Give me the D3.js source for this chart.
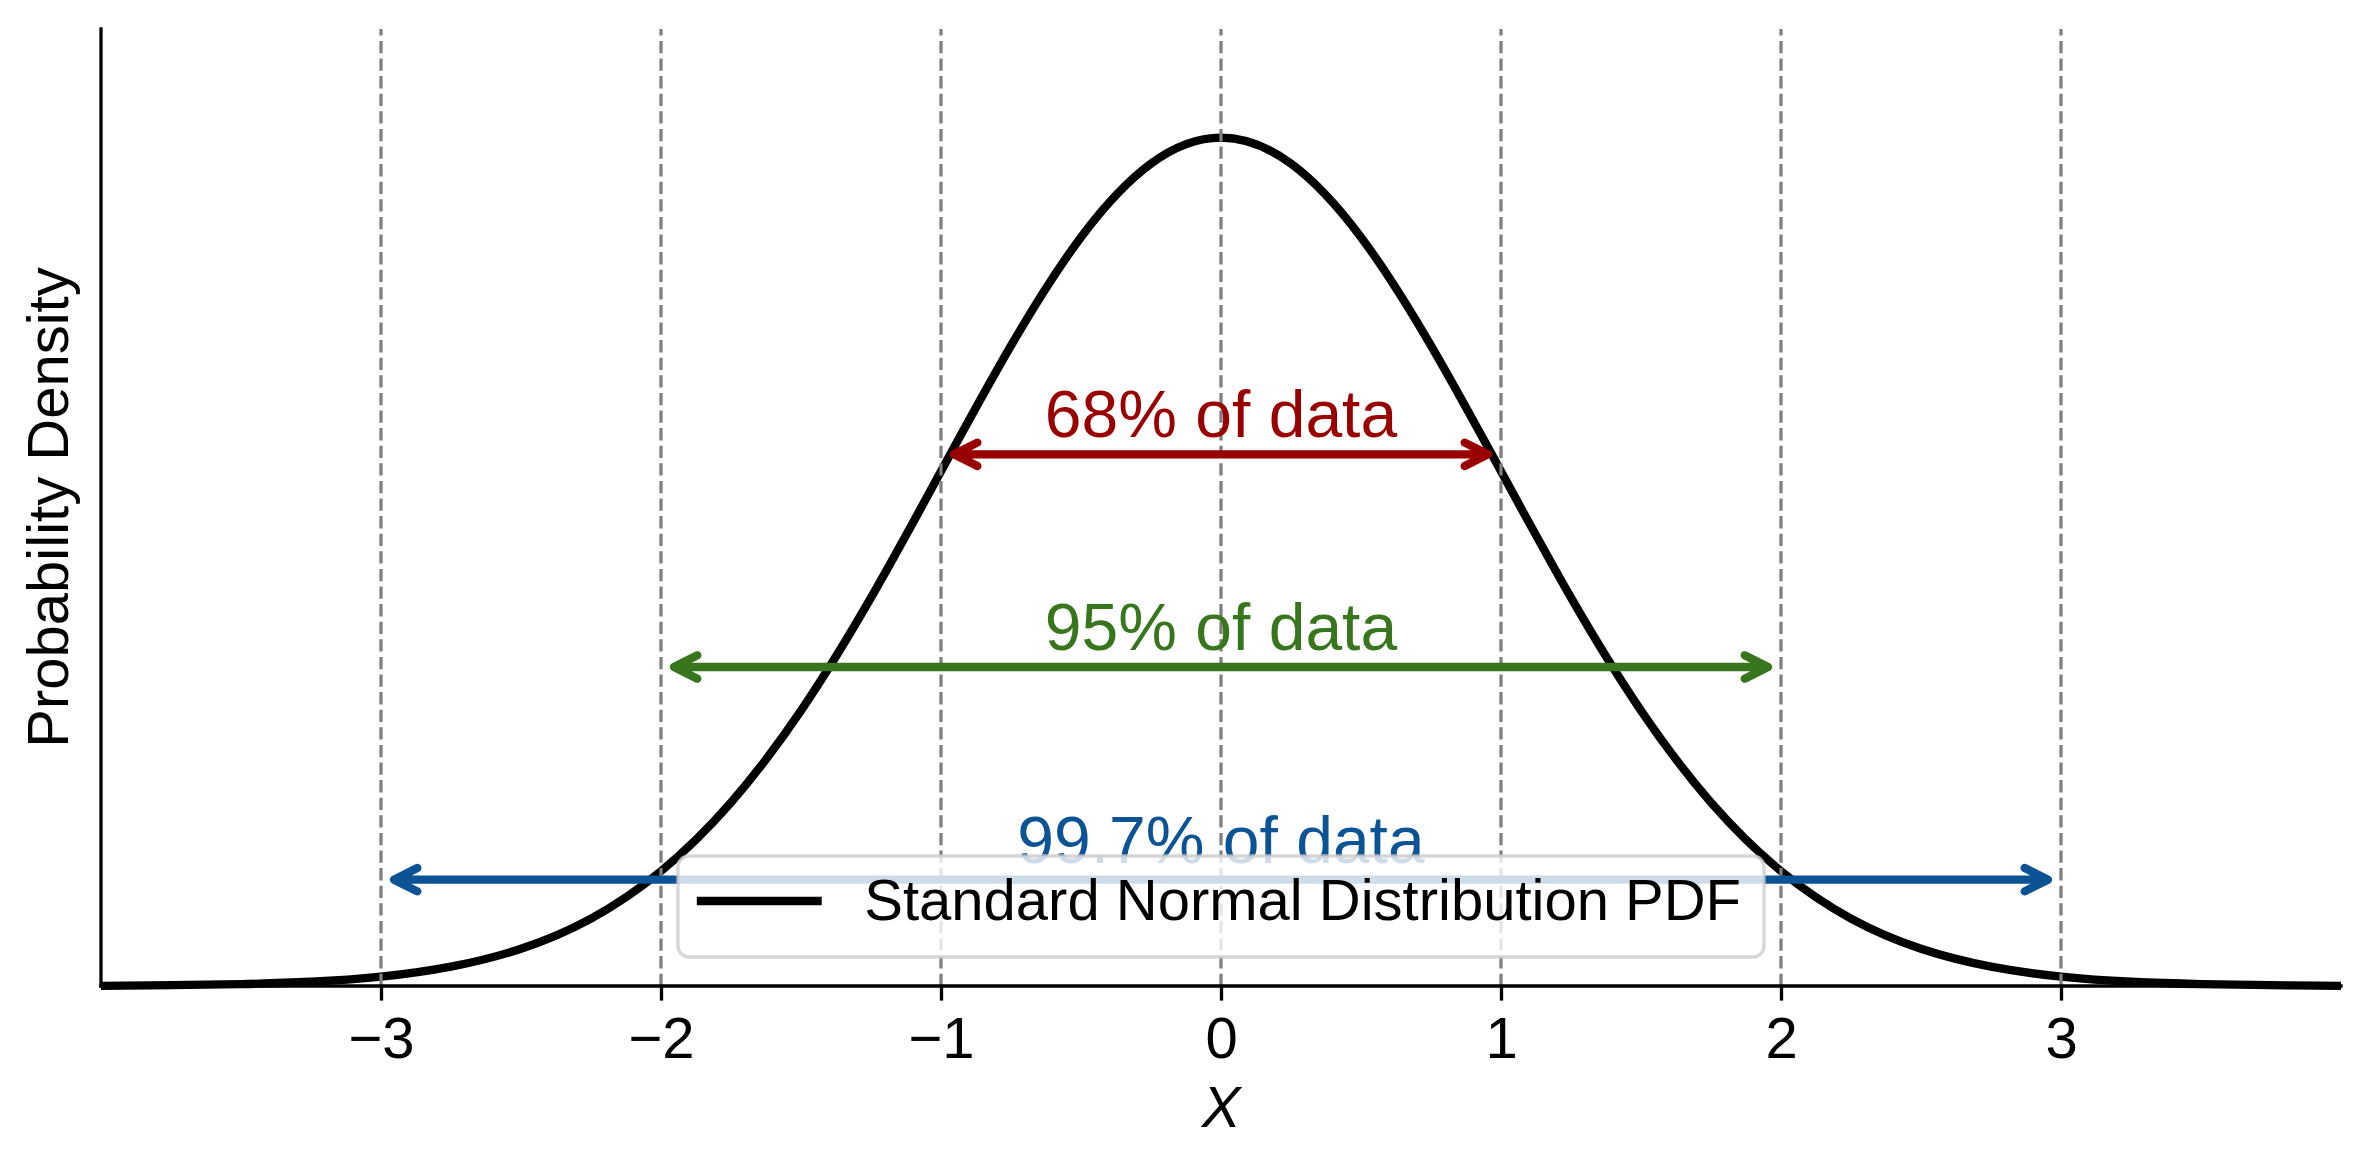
<!DOCTYPE html>
<html>
<head>
<meta charset="utf-8">
<script src="https://cdn.jsdelivr.net/npm/d3@7"></script>
<style>
  body { margin: 0; background: white; }
  text { font-family: "Liberation Sans", Arial, sans-serif; }
</style>
</head>
<body>
<div id="viz"></div>
<script>
// values
var pdfX = [-4, -3.75, -3.5, -3.25, -3, -2.75, -2.5, -2.25, -2, -1.75, -1.5, -1.25, -1, -0.75, -0.5, -0.25,
            0, 0.25, 0.5, 0.75, 1, 1.25, 1.5, 1.75, 2, 2.25, 2.5, 2.75, 3, 3.25, 3.5, 3.75, 4];
var pdfY = [0.0001, 0.0004, 0.0009, 0.0020, 0.0044, 0.0091, 0.0175, 0.0317, 0.0540, 0.0863, 0.1295, 0.1826, 0.2420, 0.3011, 0.3521, 0.3867,
            0.3989, 0.3867, 0.3521, 0.3011, 0.2420, 0.1826, 0.1295, 0.0863, 0.0540, 0.0317, 0.0175, 0.0091, 0.0044, 0.0020, 0.0009, 0.0004, 0.0001];
var xTicks = [-3, -2, -1, 0, 1, 2, 3];
var tickLabels = ["\u22123", "\u22122", "\u22121", "0", "1", "2", "3"];
var sigmaLines = [-3, -2, -1, 0, 1, 2, 3];
var rangeSigma = [1, 2, 3];
var rangeLevel = [0.25, 0.15, 0.05];
var rangeLabels = ["68% of data", "95% of data", "99.7% of data"];
var rangeColors = ["#990000", "#38761d", "#0b5394"];
var legendLabel = "Standard Normal Distribution PDF";

var width = 2370,
    height = 1170,
    plotLeft = 101, plotRight = 2341,
    plotTop = 29, plotBottom = 986;

var x = d3.scaleLinear().domain([-4, 4]).range([plotLeft, plotRight]);
var y = d3.scaleLinear().domain([0, 0.45]).range([plotBottom, plotTop]);

var svg = d3.select("#viz").append("svg")
    .attr("width", width)
    .attr("height", height)
    .style("background-color", "white");

// pdf curve
var line = d3.line()
    .x(function(d, i) { return x(pdfX[i]); })
    .y(function(d) { return y(d); })
    .curve(d3.curveNatural);

svg.append("path")
    .datum(pdfY)
    .attr("d", line)
    .style("fill", "none")
    .style("stroke", "black")
    .style("stroke-width", 8.3);

// sigma guide lines
svg.selectAll("line.sigma")
    .data(sigmaLines)
    .enter()
    .append("line")
    .attr("class", "sigma")
    .attr("x1", function(d) { return x(d); })
    .attr("x2", function(d) { return x(d); })
    .attr("y1", y(0))
    .attr("y2", y(0.45))
    .style("stroke", "#808080")
    .style("stroke-width", 3.3)
    .style("stroke-dasharray", "12.3,5.3");

// range arrows
var shrink = 13, hl = 23.3, hw = 11.7;
svg.selectAll("g.range")
    .data(rangeSigma)
    .enter()
    .append("g")
    .attr("class", "range")
    .each(function(d, i) {
       var g = d3.select(this),
           x1 = x(-d) + shrink,
           x2 = x(d) - shrink,
           yy = y(rangeLevel[i]);
       g.append("path")
        .attr("d", "M" + x1 + "," + yy + "L" + x2 + "," + yy +
                   "M" + (x1 + hl) + "," + (yy - hw) + "L" + x1 + "," + yy + "L" + (x1 + hl) + "," + (yy + hw) +
                   "M" + (x2 - hl) + "," + (yy - hw) + "L" + x2 + "," + yy + "L" + (x2 - hl) + "," + (yy + hw))
        .style("fill", "none")
        .style("stroke", rangeColors[i])
        .style("stroke-width", 8.3)
        .style("stroke-linecap", "round")
        .style("stroke-linejoin", "round");
       g.append("text")
        .attr("x", x(0))
        .attr("y", yy - 17)
        .attr("text-anchor", "middle")
        .style("font-size", "66px")
        .style("fill", rangeColors[i])
        .text(rangeLabels[i]);
    });

// axes
var xAxis = d3.axisBottom(x)
    .tickValues(xTicks)
    .tickFormat(function(d, i) { return tickLabels[i]; })
    .tickSize(14.6)
    .tickPadding(14.6);

var gx = svg.append("g")
    .attr("transform", "translate(0," + plotBottom + ")")
    .call(xAxis);
gx.select(".domain").remove();
gx.selectAll(".tick line").style("stroke", "black").style("stroke-width", 3.3);
gx.selectAll(".tick text")
    .attr("dy", null)
    .attr("y", 72)
    .style("font-size", "58px")
    .style("font-family", "'Liberation Sans', Arial, sans-serif")
    .style("fill", "black");

svg.append("line")
    .attr("x1", plotLeft).attr("x2", plotRight)
    .attr("y1", plotBottom).attr("y2", plotBottom)
    .style("stroke", "black").style("stroke-width", 3.3).style("stroke-linecap", "square");
svg.append("line")
    .attr("x1", plotLeft).attr("x2", plotLeft)
    .attr("y1", plotTop).attr("y2", plotBottom)
    .style("stroke", "black").style("stroke-width", 3.3).style("stroke-linecap", "square");

svg.append("text")
    .attr("x", x(0))
    .attr("y", 1127)
    .attr("text-anchor", "middle")
    .style("font-size", "58px")
    .style("font-style", "italic")
    .text("X");

svg.append("text")
    .attr("transform", "translate(68," + ((plotTop + plotBottom) / 2) + ") rotate(-90)")
    .attr("text-anchor", "middle")
    .style("font-size", "58px")
    .text("Probability Density");

// legend
var fs = 58, pad = 23, handleLen = 116.6, textPad = 46.7;
var legend = svg.append("g");
var legendBox = legend.append("rect");
var legendText = legend.append("text")
    .style("font-size", fs + "px")
    .text(legendLabel);
var textLen = legendText.node().getComputedTextLength();
var boxW = pad + handleLen + textPad + textLen + pad,
    boxH = 101,
    boxX = x(0) - boxW / 2,
    boxY = plotBottom - 29 - boxH;
legendBox
    .attr("x", boxX).attr("y", boxY)
    .attr("width", boxW).attr("height", boxH)
    .attr("rx", 11).attr("ry", 11)
    .style("fill", "white").style("fill-opacity", 0.8)
    .style("stroke", "#cccccc").style("stroke-opacity", 0.8)
    .style("stroke-width", 3.3);
legend.append("line")
    .attr("x1", boxX + pad).attr("x2", boxX + pad + handleLen)
    .attr("y1", boxY + 45).attr("y2", boxY + 45)
    .style("stroke", "black").style("stroke-width", 8.3)
    .style("stroke-linecap", "square");
legendText
    .attr("x", boxX + pad + handleLen + textPad)
    .attr("y", boxY + 64);
</script>
</body>
</html>
